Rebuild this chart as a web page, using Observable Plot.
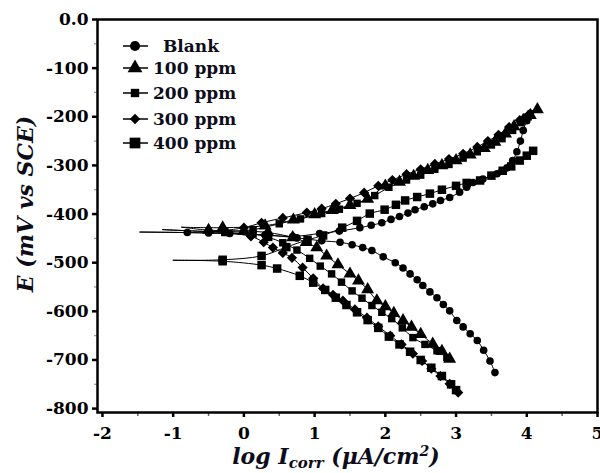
<!DOCTYPE html>
<html><head><meta charset="utf-8">
<script src="https://cdn.jsdelivr.net/npm/d3@7"></script>
<script src="https://cdn.jsdelivr.net/npm/@observablehq/plot@0.6"></script>
<style>body{margin:0;background:#fff;} #chart{position:relative;width:600px;height:473px;}</style>
</head><body><div id="chart"></div>
<script>
// ---- data (log I in µA/cm², E in mV vs SCE) ----
const seriesNames = ["Blank", "100 ppm", "200 ppm", "300 ppm", "400 ppm"];
const seriesSymbols = ["circle", "triangle", "square", "diamond2", "square"];

const blankCathodic = [[-1.47,-437],[-0.8,-438],[-0.2,-440],[0.3,-443],[0.75,-449],[1.1,-455],[1.36,-458],[1.53,-463],[1.68,-469],[1.81,-475],[1.97,-488],[2.14,-500],[2.25,-511],[2.35,-523],[2.45,-535],[2.53,-547],[2.63,-560],[2.73,-572],[2.82,-586],[2.91,-599],[3.01,-619],[3.1,-632],[3.2,-646],[3.3,-660],[3.39,-680],[3.48,-702],[3.55,-726]];
const blankAnodic = [[-1.47,-437],[-0.5,-439],[0.3,-443],[0.69,-446],[1.07,-440],[1.35,-435],[1.64,-428],[1.8,-423],[1.95,-418],[2.08,-411],[2.2,-405],[2.32,-398],[2.42,-391],[2.55,-385],[2.67,-379],[2.78,-372],[2.91,-366],[3.05,-355],[3.15,-345],[3.24,-335],[3.38,-328],[3.5,-321],[3.58,-317],[3.65,-311],[3.72,-305],[3.8,-290],[3.86,-272],[3.91,-250],[3.95,-228],[4.0,-208],[4.05,-193]];

const ppm100Cathodic = [[-0.88,-427],[-0.5,-433],[0.0,-435],[0.34,-438],[0.69,-448],[0.88,-458],[1.03,-469],[1.17,-486],[1.33,-504],[1.5,-523],[1.62,-537],[1.75,-555],[1.88,-578],[2.0,-590],[2.12,-604],[2.25,-619],[2.37,-632],[2.5,-647],[2.67,-667],[2.8,-682],[2.91,-698]];
const ppm100Anodic = [[-0.88,-427],[-0.3,-428],[0.3,-424],[0.7,-412],[1.0,-401],[1.25,-392],[1.5,-382],[1.75,-369],[2.0,-342],[2.2,-334],[2.4,-322],[2.6,-310],[2.8,-300],[3.0,-290],[3.2,-278],[3.4,-265],[3.55,-252],[3.7,-235],[3.82,-220],[3.95,-207],[4.05,-197],[4.15,-185]];

const ppm200Cathodic = [[-1.15,-432],[-0.27,-438],[0.13,-441],[0.35,-448],[0.55,-459],[0.75,-474],[0.93,-491],[1.08,-507],[1.24,-523],[1.38,-540],[1.53,-558],[1.67,-573],[1.81,-588],[1.95,-602],[2.09,-615],[2.24,-634],[2.39,-654],[2.56,-668],[2.73,-681],[2.87,-695]];
const ppm200Anodic = [[-1.15,-432],[-0.27,-436],[0.13,-432],[0.5,-420],[0.8,-410],[1.1,-399],[1.35,-390],[1.6,-378],[1.85,-362],[2.05,-345],[2.3,-330],[2.5,-320],[2.7,-308],[2.9,-298],[3.1,-285],[3.3,-272],[3.5,-258],[3.65,-245],[3.8,-228],[3.92,-212],[4.02,-200]];

const ppm300Cathodic = [[-0.4,-436],[0.1,-446],[0.28,-458],[0.41,-469],[0.55,-480],[0.68,-490],[0.83,-510],[0.98,-532],[1.12,-553],[1.26,-566],[1.4,-578],[1.57,-596],[1.74,-613],[1.9,-631],[2.07,-650],[2.23,-668],[2.39,-687],[2.52,-702],[2.65,-718],[2.78,-733],[2.91,-749],[3.03,-767]];
const ppm300Anodic = [[-0.4,-436],[0.0,-428],[0.25,-418],[0.55,-408],[0.89,-397],[1.1,-389],[1.3,-379],[1.5,-368],[1.7,-356],[1.9,-342],[2.1,-330],[2.3,-318],[2.5,-308],[2.7,-297],[2.9,-287],[3.1,-276],[3.3,-262],[3.45,-250],[3.6,-237],[3.75,-221],[3.9,-207],[4.02,-197]];

const ppm400Cathodic = [[-1.0,-495],[-0.3,-497],[0.25,-505],[0.47,-512],[0.79,-527],[0.98,-541],[1.15,-556],[1.3,-572],[1.45,-587],[1.6,-602],[1.75,-618],[1.9,-634],[2.05,-652],[2.2,-668],[2.35,-683],[2.5,-700],[2.65,-716],[2.8,-733],[2.93,-750],[3.0,-762]];
const ppm400Anodic = [[-1.0,-495],[-0.3,-494],[0.25,-486],[0.6,-468],[0.9,-453],[1.12,-444],[1.39,-428],[1.6,-414],[1.78,-399],[1.99,-391],[2.15,-381],[2.28,-372],[2.45,-365],[2.63,-358],[2.8,-350],[3.0,-342],[3.15,-336],[3.34,-331],[3.5,-321],[3.66,-311],[3.78,-302],[3.9,-290],[4.0,-280],[4.09,-270]];

const xTicks = [-2, -1, 0, 1, 2, 3, 4, 5];
const xMinorTicks = [-1.5, -0.5, 0.5, 1.5, 2.5, 3.5, 4.5];
const yTicks = [0, -100, -200, -300, -400, -500, -600, -700, -800];
const yMinorTicks = [-50, -150, -250, -350, -450, -550, -650, -750];

// ---- build table ----
const branches = [
  ["Blank", "c", blankCathodic], ["Blank", "a", blankAnodic],
  ["100 ppm", "c", ppm100Cathodic], ["100 ppm", "a", ppm100Anodic],
  ["200 ppm", "c", ppm200Cathodic], ["200 ppm", "a", ppm200Anodic],
  ["300 ppm", "c", ppm300Cathodic], ["300 ppm", "a", ppm300Anodic],
  ["400 ppm", "c", ppm400Cathodic], ["400 ppm", "a", ppm400Anodic]
];
const rows = branches.flatMap(([s, b, pts]) => pts.map(([x, y], i) => ({series: s, key: s + b, x, y, i})));

const markerR = {"Blank": 3.8, "100 ppm": 4.8, "200 ppm": 4.2, "300 ppm": 4.6, "400 ppm": 4.8};

const dotMarks = seriesNames.map(s => Plot.dot(rows.filter(d => d.series === s && d.i > 0), {
  x: "x", y: "y", symbol: "series", fill: "#000", stroke: "none", r: markerR[s]
}));

const plot = Plot.plot({
  width: 600, height: 473,
  marginLeft: 97, marginRight: 3, marginTop: 19, marginBottom: 61,
  style: {fontFamily: "'DejaVu Serif', serif", fontWeight: "bold", fontSize: "17px", color: "#000", background: "#fff", overflow: "visible"},
  x: {domain: [-2.07, 5.0]},
  y: {domain: [-808, 0]},
  symbol: {domain: seriesNames, range: seriesSymbols},
  marks: [
    Plot.axisX({ticks: xTicks, tickSize: 5, tickPadding: 9, strokeWidth: 2.5, label: null, tickFormat: d => String(d)}),
    Plot.axisX({ticks: xMinorTicks, tickSize: 4, text: null, label: null, strokeWidth: 1.5, strokeOpacity: 0.6}),
    Plot.axisY({ticks: yTicks, tickSize: 5, tickPadding: 4, strokeWidth: 2.5, label: null, tickFormat: d => d === 0 ? "0.0" : String(d)}),
    Plot.axisY({ticks: yMinorTicks, tickSize: 3, text: null, label: null, strokeWidth: 1.2, strokeOpacity: 0.4}),
    Plot.line(rows, {x: "x", y: "y", z: "key", stroke: "#000", strokeWidth: 1, curve: "catmull-rom"}),
    ...dotMarks,
    Plot.frame({stroke: "#000", strokeWidth: 2.5})
  ]
});

const svg = d3.select(plot);
// y label
svg.append("text")
  .attr("transform", "translate(25,204) rotate(-90)")
  .attr("text-anchor", "middle").attr("dy", "0.35em")
  .style("font", "italic bold 22px 'DejaVu Serif', serif").style("fill", "#0d0d1a")
  .text("E (mV vs SCE)");
// x label
const xl = svg.append("text")
  .attr("x", 336).attr("y", 464).attr("text-anchor", "middle")
  .style("font", "italic bold 22px 'DejaVu Serif', serif").style("fill", "#0d0d1a");
xl.append("tspan").text("log I");
xl.append("tspan").attr("dy", 4).style("font-size", "15px").text("corr");
xl.append("tspan").attr("dy", -4).text(" (\u03bcA/cm");
xl.append("tspan").attr("dy", -8).style("font-size", "14px").text("2");
xl.append("tspan").attr("dy", 8).text(")");

// legend
const legY = [46, 68, 93, 119, 143];
const legSize = [80, 95, 70, 70, 115];
const symTypes = [d3.symbolCircle, d3.symbolTriangle, d3.symbolSquare, d3.symbolDiamond2, d3.symbolSquare];
const leg = svg.append("g").attr("text-anchor", "start");
seriesNames.forEach((name, i) => {
  const g = leg.append("g").attr("transform", `translate(0,${legY[i]})`);
  g.append("line").attr("x1", 123).attr("x2", 148).attr("y1", 0).attr("y2", 0).attr("stroke", "#000").attr("stroke-width", 1.5);
  g.append("path").attr("transform", "translate(135,0)").attr("d", d3.symbol(symTypes[i], legSize[i])()).attr("fill", "#000");
  g.append("text").attr("x", i === 0 ? 163 : 153).attr("dy", "0.35em").attr("text-anchor", "start")
    .style("font", "bold 17px 'DejaVu Serif', serif").style("fill", "#0d0d1a").text(name);
});

document.getElementById("chart").appendChild(plot);
</script>
</body></html>
